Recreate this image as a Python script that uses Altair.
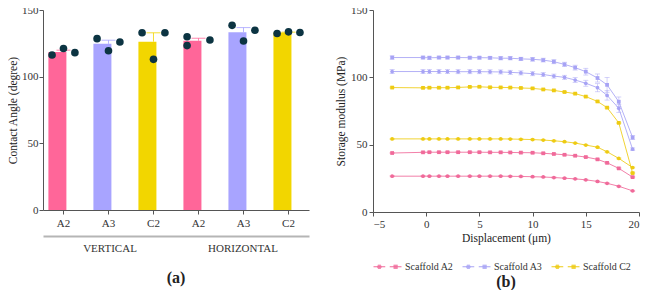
import altair as alt
import pandas as pd

FONT = "Liberation Serif"

# ---------- Panel (a): contact angle ----------
groups = ["VERTICAL", "HORIZONTAL"]
scaffolds = ["A2", "A3", "C2"]
bar_colors = ["#FF6699", "#A8A4FF", "#F2D600"]
dot_color = "#0C3442"

# replicate measurements (degree) per group / scaffold
vertical_a2 = [116.2, 121.1, 118.0]
vertical_a3 = [128.5, 119.4, 126.0]
vertical_c2 = [132.9, 113.0, 132.9]
horizontal_a2 = [129.9, 123.3, 127.5]
horizontal_a3 = [138.5, 126.8, 134.8]
horizontal_c2 = [132.4, 133.6, 133.1]
rep_positions = ["L", "M", "R"]
horizontal_a2_positions = ["L", "L", "R"]

rows = []
for g, s, vals, pos in [
    ("VERTICAL", "A2", vertical_a2, rep_positions),
    ("VERTICAL", "A3", vertical_a3, rep_positions),
    ("VERTICAL", "C2", vertical_c2, rep_positions),
    ("HORIZONTAL", "A2", horizontal_a2, horizontal_a2_positions),
    ("HORIZONTAL", "A3", horizontal_a3, rep_positions),
    ("HORIZONTAL", "C2", horizontal_c2, rep_positions),
]:
    for v, p in zip(vals, pos):
        rows.append({"group": g, "scaffold": s, "key": f"{g}|{s}", "pos": p, "value": v})
angle_df = pd.DataFrame(rows)
keys = [f"{g}|{s}" for g in groups for s in scaffolds]

xa = alt.X(
    "key:N",
    sort=keys,
    scale=alt.Scale(paddingInner=0.33, paddingOuter=0.12),
    axis=alt.Axis(
        title=None,
        labelExpr="split(datum.label, '|')[1]",
        labelAngle=0,
        tickSize=4,
        labelPadding=3,
        domainColor="#555555",
        tickColor="#555555",
    ),
)
ya = alt.Y(
    "mean:Q",
    scale=alt.Scale(domain=[0, 150], nice=False),
    axis=alt.Axis(
        title="Contact Angle (degree)",
        values=[0, 50, 100, 150],
        grid=False,
        tickSize=4,
        domainColor="#555555",
        tickColor="#555555",
        titlePadding=3,
        labelPadding=1,
    ),
)
bar_color = alt.Color(
    "scaffold:N", scale=alt.Scale(domain=scaffolds, range=bar_colors), legend=None
)

agg = (
    alt.Chart(angle_df)
    .transform_aggregate(mean="mean(value)", sem="stderr(value)", groupby=["key", "scaffold"])
    .transform_calculate(top="datum.mean + datum.sem")
)
bars = agg.mark_bar().encode(x=xa, y=ya, color=bar_color)
err = agg.mark_rule(strokeWidth=1, opacity=0.8).encode(x=xa, y="mean:Q", y2="top:Q", color=bar_color)
cap = agg.mark_tick(thickness=1, size=14, orient="horizontal", opacity=0.8).encode(
    x=xa, y="top:Q", color=bar_color
)
dots = alt.Chart(angle_df).mark_circle(size=58, color=dot_color, opacity=1).encode(
    x=xa,
    xOffset=alt.XOffset("pos:N", scale=alt.Scale(type="point", padding=0.32, domain=rep_positions)),
    y=alt.Y("value:Q"),
)

group_df = pd.DataFrame({"group": groups})
group_axis = alt.Chart(group_df).mark_text(text="").encode(
    x=alt.X(
        "group:N",
        sort=groups,
        scale=alt.Scale(paddingInner=0, paddingOuter=0),
        axis=alt.Axis(
            orient="bottom",
            offset=26,
            title=None,
            ticks=False,
            labelAngle=0,
            labelPadding=6,
            domainColor="#B5B5B5",
            domainWidth=2,
            labelFontSize=11,
        ),
    )
)

left = (
    alt.layer(alt.layer(bars, err, cap, dots), group_axis)
    .resolve_scale(x="independent")
    .properties(
        width=266,
        height=200,
        title=alt.TitleParams(
            "(a)", orient="bottom", fontSize=16, font=FONT, fontWeight="bold", offset=17, color="#222222"
        ),
    )
)

# ---------- Panel (b): storage modulus ----------
displacement = [-3.2, -0.3, 0.3, 1.2, 2.0, 3.0, 4.1, 5.0, 6.0, 7.0, 7.9, 8.9,
                10.0, 11.0, 12.0, 13.0, 14.0, 15.0, 16.1, 17.0, 18.1, 19.4]
a3_square = [114.7, 114.7, 114.5, 114.7, 114.7, 114.7, 114.6, 114.6, 114.5, 114.2, 114.2, 113.7,
             113.4, 112.8, 111.6, 109.6, 107.2, 104.2, 99.5, 94.4, 81.9, 55.3]
a3_circle = [104.3, 104.3, 104.3, 104.3, 104.3, 104.2, 104.2, 104.2, 104.1, 104.0, 103.7, 103.3,
             102.7, 102.1, 100.9, 100.0, 98.0, 95.6, 92.3, 86.6, 77.0, 46.6]
c2_square = [92.4, 92.2, 92.3, 92.3, 92.3, 92.5, 92.9, 93.0, 92.6, 92.5, 92.4, 92.1,
             91.8, 91.0, 90.3, 89.1, 87.9, 85.7, 82.1, 77.5, 66.2, 28.9]
c2_circle = [54.3, 54.3, 54.3, 54.3, 54.3, 54.3, 54.3, 54.3, 54.3, 54.3, 54.2, 54.0,
             53.8, 53.4, 52.9, 52.2, 51.2, 49.7, 48.1, 44.7, 39.8, 33.0]
a2_square = [43.8, 44.3, 44.4, 44.4, 44.4, 44.4, 44.4, 44.4, 44.3, 44.3, 44.2, 44.1,
             44.0, 43.6, 43.1, 42.5, 41.8, 40.8, 39.1, 36.5, 32.4, 25.9]
a2_circle = [26.6, 26.6, 26.6, 26.6, 26.6, 26.6, 26.6, 26.6, 26.6, 26.6, 26.5, 26.4,
             26.2, 26.0, 25.6, 25.1, 24.6, 23.9, 22.7, 21.3, 19.1, 15.7]
a3_square_err = [1.2, 1.0, 1.2, 1.0, 1.0, 1.0, 1.0, 1.0, 1.0, 1.2, 1.2, 1.2,
                 1.4, 1.4, 1.5, 1.6, 1.8, 2.5, 3.0, 5.5, 3.5, 1.5]
a3_circle_err = [1.5, 1.5, 1.5, 1.5, 1.5, 1.5, 1.5, 1.5, 1.5, 1.5, 1.5, 1.5,
                 1.5, 1.5, 1.5, 1.5, 1.8, 2.2, 3.0, 3.5, 3.0, 1.0]
small_err = [0.4] * 22

series_names = ["Scaffold A2", "Scaffold A3", "Scaffold C2"]
line_colors = ["#F06A9A", "#A7A3F5", "#EECB12"]

rows = []
for name, kind, vals, errs in [
    ("Scaffold A2", "circle", a2_circle, small_err),
    ("Scaffold A2", "square", a2_square, small_err),
    ("Scaffold A3", "circle", a3_circle, a3_circle_err),
    ("Scaffold A3", "square", a3_square, a3_square_err),
    ("Scaffold C2", "circle", c2_circle, small_err),
    ("Scaffold C2", "square", c2_square, small_err),
]:
    for d, v, e in zip(displacement, vals, errs):
        rows.append({"series": name, "kind": kind, "disp": d, "mod": v, "lo": v - e, "hi": v + e})
mod_df = pd.DataFrame(rows)

xb = alt.X(
    "disp:Q",
    scale=alt.Scale(domain=[-5, 20], nice=False, zero=False),
    axis=alt.Axis(
        title="Displacement (μm)",
        values=[-5, 0, 5, 10, 15, 20],
        grid=False,
        tickSize=4,
        domainColor="#555555",
        tickColor="#555555",
        titlePadding=3,
    ),
)
yb = alt.Y(
    "mod:Q",
    scale=alt.Scale(domain=[0, 150], nice=False),
    axis=alt.Axis(
        title="Storage modulus (MPa)",
        values=[0, 50, 100, 150],
        grid=False,
        tickSize=4,
        domainColor="#555555",
        tickColor="#555555",
        titlePadding=4,
    ),
)
ser_scale = alt.Scale(domain=series_names, range=line_colors)

# legend glyph: line-circle-line, gap, line-square-line (stroke-drawn, hatched fill)
glyph = "M-1,0L-0.16,0M0.16,0L1,0"
for yy, hw in [(-0.11, 0.11), (-0.037, 0.155), (0.037, 0.155), (0.11, 0.11)]:
    glyph += f"M{-0.58 - hw:.3f},{yy}L{-0.58 + hw:.3f},{yy}"
for yy in [-0.11, -0.037, 0.037, 0.11]:
    glyph += f"M0.43,{yy}L0.73,{yy}"

leg = alt.Legend(
    title=None,
    orient="bottom",
    direction="horizontal",
    symbolType=glyph,
    symbolSize=784,
    symbolStrokeWidth=1,
    symbolOpacity=1,
    labelFont=FONT,
    labelFontSize=10,
    labelColor="#333333",
    labelOffset=3,
    columnPadding=6,
    offset=8,
)

base_b = alt.Chart(mod_df)
lines = base_b.mark_line(strokeWidth=1, opacity=0.85).encode(
    x=xb, y=yb, color=alt.Color("series:N", scale=ser_scale, legend=leg), detail="kind:N"
)
err_b = base_b.mark_rule(strokeWidth=0.8, opacity=0.6).encode(
    x=xb, y="lo:Q", y2="hi:Q", color=alt.Color("series:N", scale=ser_scale, legend=leg)
)
cap_lo = base_b.mark_tick(orient="horizontal", size=5, thickness=0.8, opacity=0.6).encode(
    x=xb, y="lo:Q", color=alt.Color("series:N", scale=ser_scale, legend=leg)
)
cap_hi = base_b.mark_tick(orient="horizontal", size=5, thickness=0.8, opacity=0.6).encode(
    x=xb, y="hi:Q", color=alt.Color("series:N", scale=ser_scale, legend=leg)
)
pts = base_b.mark_point(filled=True, opacity=1, size=14).encode(
    x=xb,
    y=yb,
    color=alt.Color("series:N", scale=ser_scale, legend=leg),
    shape=alt.Shape("kind:N", scale=alt.Scale(domain=["circle", "square"], range=["circle", "square"]), legend=None),
)

right = alt.layer(lines, err_b, cap_lo, cap_hi, pts).properties(
    width=266,
    height=202,
    title=alt.TitleParams(
        "(b)", orient="bottom", fontSize=16, font=FONT, fontWeight="bold", offset=2, color="#222222"
    ),
)

chart = (
    alt.hconcat(left, right, spacing=26)
    .resolve_scale(color="independent", shape="independent")
    .resolve_legend(color="independent", shape="independent")
    .properties(padding={"left": -1, "top": -4, "right": 0, "bottom": 0})
    .configure(font=FONT)
    .configure_axis(
        labelFont=FONT,
        titleFont=FONT,
        labelFontSize=11,
        titleFontSize=11.5,
        titleFontWeight="normal",
        labelColor="#333333",
        titleColor="#222222",
    )
    .configure_view(stroke=None)
)

chart.save("out.html", embed_options={"renderer": "svg", "actions": False})
